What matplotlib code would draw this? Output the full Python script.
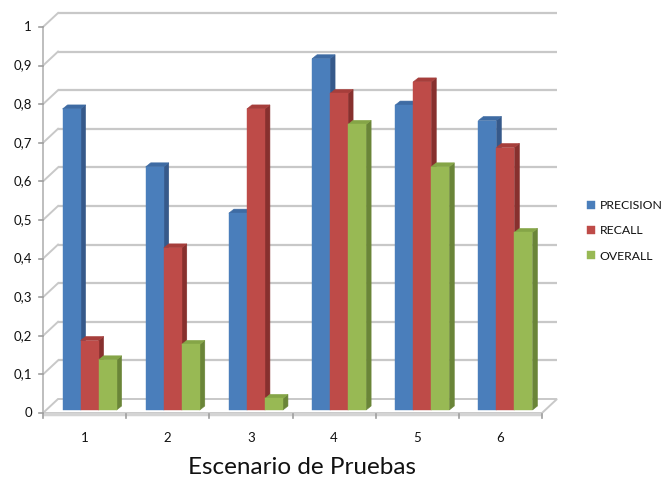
import matplotlib
matplotlib.use("Agg")
import matplotlib.pyplot as plt
from matplotlib.patches import Polygon
from matplotlib.transforms import ScaledTranslation

# Data
escenarios = ["1", "2", "3", "4", "5", "6"]
precision = [0.78, 0.63, 0.51, 0.91, 0.79, 0.75]
recall = [0.18, 0.42, 0.78, 0.82, 0.85, 0.68]
overall = [0.13, 0.17, 0.03, 0.74, 0.63, 0.46]
series_names = ["PRECISION", "RECALL", "OVERALL"]
y_ticks = [0, 0.1, 0.2, 0.3, 0.4, 0.5, 0.6, 0.7, 0.8, 0.9, 1.0]
y_tick_labels = ["0", "0,1", "0,2", "0,3", "0,4", "0,5", "0,6", "0,7", "0,8", "0,9", "1"]

# Face colours: front, side, top
faces = [
    ("#4A7EBB", "#36598A", "#3E6BA3"),
    ("#BE4B48", "#87302E", "#A63E3B"),
    ("#98B954", "#6A8538", "#85A547"),
]

W, H, DPI = 663, 483, 100
fig = plt.figure(figsize=(W / DPI, H / DPI), dpi=DPI)
fig.patch.set_facecolor("white")

# Front plane of the plot box, in pixels
x0_px, x1_px, yb_px, yt_px = 43, 542, 413, 27
ax = fig.add_axes([x0_px / W, (H - yb_px) / H, (x1_px - x0_px) / W, (yb_px - yt_px) / H])
n = len(escenarios)
ax.set_xlim(0, n)
ax.set_ylim(0, 1)
ax.axis("off")

px_x = (x1_px - x0_px) / n   # pixels per category
px_y = (yb_px - yt_px) / 1.0  # pixels per unit value


def ux(p):
    return p / px_x


def uy(p):
    return p / px_y


grid_c = "#C8C8C8"
txt_c = "#111111"
wall_dx, wall_dy = ux(15), uy(14)

# Back wall gridlines and left wall diagonals
for v in y_ticks[1:]:
    ax.plot([wall_dx, n + wall_dx], [v + wall_dy, v + wall_dy], color=grid_c, lw=1.6,
            solid_capstyle="butt", clip_on=False, zorder=1)
    ax.plot([0, wall_dx], [v, v + wall_dy], color=grid_c, lw=1.4, clip_on=False, zorder=1)

# Floor
floor = Polygon([(0, 0), (n, 0), (n + wall_dx, wall_dy), (wall_dx, wall_dy)], closed=True,
                facecolor="white", edgecolor=grid_c, lw=1.4, clip_on=False, zorder=1)
ax.add_patch(floor)
ax.plot([0, n], [-uy(1), -uy(1)], color="#D4D4D4", lw=2.5, clip_on=False, zorder=1,
        solid_capstyle="butt")

# Front vertical axis with ticks
ax.plot([0, 0], [0, 1], color="#BEBEBE", lw=1.4, clip_on=False, zorder=2)
for v, lab in zip(y_ticks, y_tick_labels):
    ax.plot([-ux(4), 0], [v, v], color="#9E9E9E", lw=1.2, clip_on=False, zorder=2)
    ax.text(-ux(11), v, lab, ha="right", va="center", fontsize=9.5, family="Lato",
            color=txt_c)

# Category ticks and labels
for i in range(n + 1):
    ax.plot([i, i], [-uy(1), -uy(5)], color="#9E9E9E", lw=1.2, clip_on=False, zorder=2)
for i, lab in enumerate(escenarios):
    ax.text(i + 0.5, -uy(25), lab, ha="center", va="center", fontsize=9.5, family="Lato",
            color=txt_c)

# Bars drawn on a plane slightly behind the front of the box
shift = ax.transData + ScaledTranslation(5 / DPI, 3 / DPI, fig.dpi_scale_trans)
group = 0.65
bw = group / 3
bar_dx, bar_dy = ux(5), uy(4)
series = [precision, recall, overall]

handles = []
for i in range(n):
    for j, vals in enumerate(series):
        v = vals[i]
        left = i + (1 - group) / 2 + j * bw
        front, side, top = faces[j]
        right = left + bw
        ax.add_patch(Polygon([(right, 0), (right + bar_dx, bar_dy), (right + bar_dx, v + bar_dy),
                              (right, v)], closed=True, facecolor=side, edgecolor=side, lw=0.4,
                             transform=shift, clip_on=False, zorder=3 + i * 3 + j))
        ax.add_patch(Polygon([(left, v), (right, v), (right + bar_dx, v + bar_dy),
                              (left + bar_dx, v + bar_dy)], closed=True, facecolor=top,
                             edgecolor=top, lw=0.4, transform=shift, clip_on=False,
                             zorder=3 + i * 3 + j))
        b = ax.bar(left, v, width=bw, align="edge", color=front, edgecolor=front, lw=0.3,
                   transform=shift, clip_on=False, zorder=3.5 + i * 3 + j,
                   label=series_names[j] if i == 0 else None)
        if i == 0:
            handles.append(b)

fig.legend(handles=handles, labels=series_names, loc="center left",
           bbox_to_anchor=(576 / W, 1 - 231 / H), frameon=False,
           prop={"family": "Lato", "size": 8.8}, handlelength=0.65, handleheight=0.65,
           handletextpad=0.4, labelspacing=1.15, labelcolor=txt_c)

fig.text(302 / W, 1 - 468 / H, "Escenario de Pruebas", ha="center", va="center",
         fontsize=17.5, family="Lato", color=txt_c)

fig.savefig("out.png", dpi=DPI)
